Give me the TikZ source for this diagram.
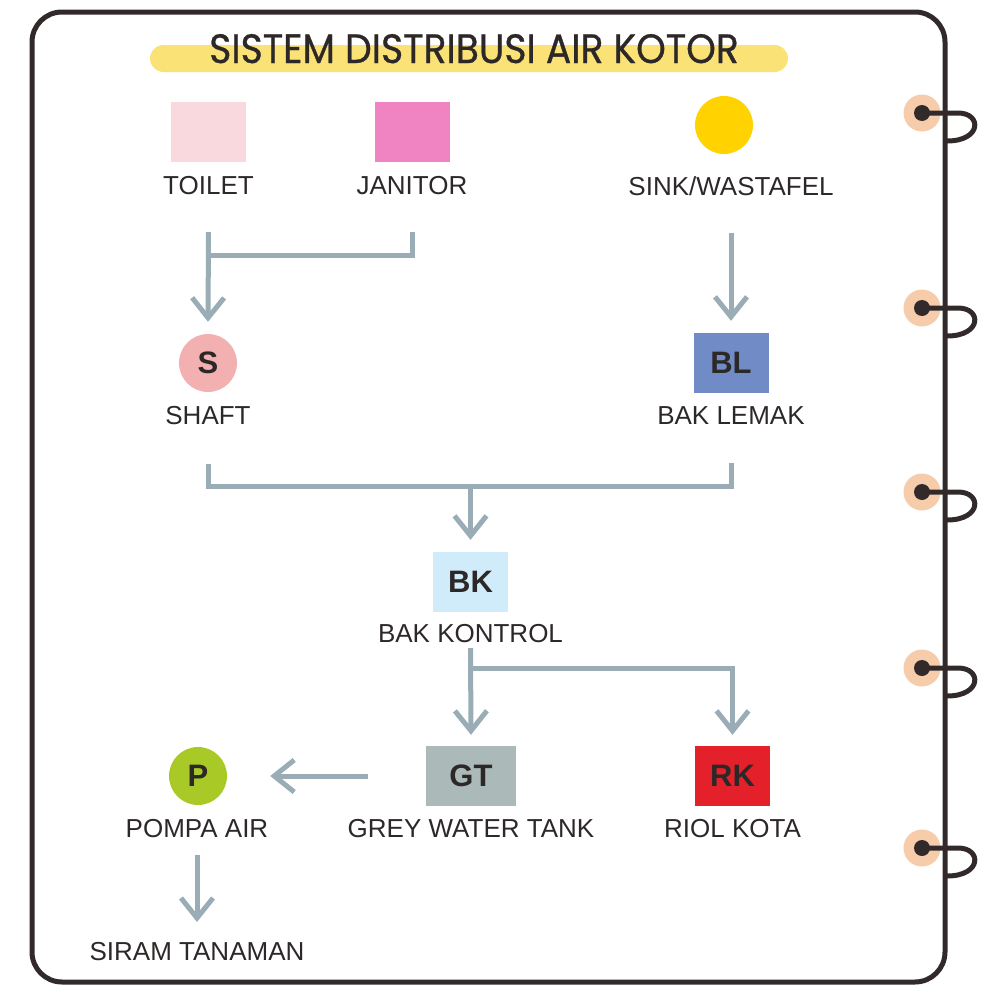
\documentclass[tikz,border=0pt]{standalone}
\usepackage{fontspec}
\setmainfont{Liberation Sans}
\newfontfamily\titlefont[FakeStretch=0.92, FakeBold=0.7]{Poppins}
\usetikzlibrary{arrows.meta, positioning, calc}

\definecolor{frameink}{RGB}{50, 42, 42}
\definecolor{textink}{RGB}{45, 40, 40}
\definecolor{ringpeach}{RGB}{246, 204, 170}
\definecolor{pipegrey}{RGB}{154, 173, 183}
\definecolor{titleyellow}{RGB}{251, 226, 118}
\definecolor{toiletpink}{RGB}{249, 217, 221}
\definecolor{janitorpink}{RGB}{240, 131, 194}
\definecolor{sinkgold}{RGB}{255, 210, 0}
\definecolor{shaftpink}{RGB}{243, 176, 177}
\definecolor{lemakblue}{RGB}{113, 139, 198}
\definecolor{kontrolblue}{RGB}{208, 236, 250}
\definecolor{greytank}{RGB}{172, 185, 185}
\definecolor{riolred}{RGB}{228, 32, 42}
\definecolor{pompagreen}{RGB}{169, 202, 38}

\tikzset{
  iconbox/.style={rectangle, minimum width=75pt, minimum height=60pt, inner sep=0pt, text=textink, font=\fontsize{31}{31}\selectfont\bfseries},
  icondot/.style={circle, minimum size=58pt, inner sep=0pt, text=textink, font=\fontsize{31}{31}\selectfont\bfseries},
  lbl/.style={inner sep=0pt, text=textink, font=\fontsize{26}{26}\selectfont},
  pipe/.style={line width=5pt, pipegrey, line cap=butt, line join=miter},
  flow/.style={pipe, -{Straight Barb[length=20pt, width=32pt]}},
}

\begin{document}
\begin{tikzpicture}[x=1pt, y=-1pt]
  \useasboundingbox (0,0) rectangle (983,985);

  % notebook page
  \draw[frameink, line width=5pt, rounded corners=30pt] (32,12) rectangle (945,982);
  \foreach \y in {113, 308, 492, 668, 848} {
    \fill[ringpeach] (922,\y) circle (18.5);
    \draw[frameink, line width=5pt] (922,\y) -- (958,\y) .. controls (982,\y) and (982,\y+28) .. (947,\y+28);
    \fill[frameink] (922,\y) circle (8);
  }

  % title
  \fill[titleyellow, rounded corners=13.5pt] (150,45) rectangle (788,72);
  \node[text=textink, font=\titlefont\fontsize{41}{41}\selectfont, anchor=base] (title) at (474,63) {SISTEM DISTRIBUSI AIR KOTOR};

  % sources
  \node[iconbox, fill=toiletpink] (toilet) at (208.5,132) {};
  \node[iconbox, fill=janitorpink] (janitor) at (412,132) {};
  \node[icondot, fill=sinkgold] (sink) at (724,125) {};
  \node[lbl, below=14pt of toilet] (toiletlbl) {TOILET};
  \node[lbl, below=14pt of janitor] (janitorlbl) {JANITOR};
  \node[lbl, below=22pt of sink, xshift=7pt] (sinklbl) {SINK/WASTAFEL};

  % first stage
  \node[icondot, fill=shaftpink] (shaft) at (208,363) {S};
  \node[iconbox, fill=lemakblue] (bl) at (731,363) {BL};
  \node[lbl, below=14pt of shaft] (shaftlbl) {SHAFT};
  \node[lbl, below=13pt of bl] (bllbl) {BAK LEMAK};

  \node[iconbox, fill=kontrolblue] (bk) at (470.5,582) {BK};
  \node[lbl, below=12pt of bk] (bklbl) {BAK KONTROL};

  % outlets
  \node[iconbox, minimum width=90pt, fill=greytank] (gt) at (471,776) {GT};
  \node[iconbox, fill=riolred] (rk) at (732.5,776) {RK};
  \node[icondot, fill=pompagreen] (pump) at (198,776) {P};
  \node[lbl, below=13pt of gt] (gtlbl) {GREY WATER TANK};
  \node[lbl, below=13pt of rk] (rklbl) {RIOL KOTA};
  \node[lbl, below=14pt of pump, xshift=-1pt] (pumplbl) {POMPA AIR};
  \node[lbl, below=104pt of pumplbl] (siram) {SIRAM TANAMAN};

  % pipes
  \draw[flow] ([yshift=-37pt]toiletlbl.south) -- ([yshift=12pt]shaft.north);
  \draw[pipe] ([yshift=-37pt]janitorlbl.south) |- ([yshift=-60pt]toiletlbl.south);
  \draw[flow] ([yshift=-37pt]sinklbl.south) -- ([yshift=12pt]bl.north);
  \draw[pipe] ([yshift=-39pt]shaftlbl.south) |- ([yshift=-62pt]bllbl.south) -- ([yshift=-39pt]bllbl.south);
  \draw[flow] (bk.north |- 0,486) -- ([yshift=12pt]bk.north);
  \draw[flow] ([yshift=-5pt]bklbl.south) -- ([yshift=11pt]gt.north);
  \draw[flow] ([yshift=-25pt]bklbl.south) -| ([yshift=11pt]rk.north);
  \draw[flow] ([xshift=-58pt]gt.west) -- ([xshift=43pt]pump.east);
  \draw[flow] ([yshift=-17pt]pumplbl.south) -- ([yshift=20pt]siram.north);
\end{tikzpicture}
\end{document}
